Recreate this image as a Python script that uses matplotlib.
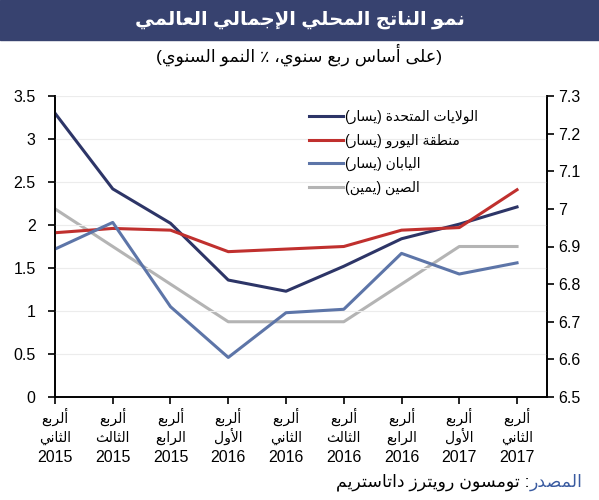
import matplotlib
matplotlib.use("Agg")
import matplotlib.pyplot as plt

# ---- data ----
quarter_names = ["الثاني", "الثالث", "الرابع", "الأول", "الثاني", "الثالث", "الرابع", "الأول", "الثاني"]
years = ["2015", "2015", "2015", "2016", "2016", "2016", "2016", "2017", "2017"]

usa = [3.30, 2.42, 2.02, 1.36, 1.23, 1.52, 1.84, 2.01, 2.21]
euro = [1.91, 1.96, 1.94, 1.69, 1.72, 1.75, 1.94, 1.97, 2.41]
japan = [1.72, 2.03, 1.05, 0.46, 0.98, 1.02, 1.67, 1.43, 1.56]
china = [7.0, 6.9, 6.8, 6.7, 6.7, 6.7, 6.8, 6.9, 6.9]  # right axis

left_ticks = [0, 0.5, 1, 1.5, 2, 2.5, 3, 3.5]
left_ticklabels = ["0", "0.5", "1", "1.5", "2", "2.5", "3", "3.5"]
right_ticks = [6.5, 6.6, 6.7, 6.8, 6.9, 7.0, 7.1, 7.2, 7.3]
right_ticklabels = ["6.5", "6.6", "6.7", "6.8", "6.9", "7", "7.1", "7.2", "7.3"]

labels = ["الولايات المتحدة (يسار)", "منطقة اليورو (يسار)", "اليابان (يسار)", "الصين (يمين)"]
colors = ["#2d3567", "#c0302e", "#5d75a8", "#b4b4b4"]

quarter_word = "ألربع"
title = "نمو الناتج المحلي الإجمالي العالمي"
subtitle = "(على أساس ربع سنوي، ٪ النمو السنوي)"
source_lbl = "المصدر"
source_txt = ": تومسون رويترز داتاستريم"

# ---- tiny arabic shaper (matplotlib has no RTL shaping) ----
JOIN = {
    'ء': (0xFE80, 1), 'آ': (0xFE81, 2), 'أ': (0xFE83, 2), 'ؤ': (0xFE85, 2),
    'إ': (0xFE87, 2), 'ئ': (0xFE89, 4), 'ا': (0xFE8D, 2), 'ب': (0xFE8F, 4),
    'ة': (0xFE93, 2), 'ت': (0xFE95, 4), 'ث': (0xFE99, 4), 'ج': (0xFE9D, 4),
    'ح': (0xFEA1, 4), 'خ': (0xFEA5, 4), 'د': (0xFEA9, 2), 'ذ': (0xFEAB, 2),
    'ر': (0xFEAD, 2), 'ز': (0xFEAF, 2), 'س': (0xFEB1, 4), 'ش': (0xFEB5, 4),
    'ص': (0xFEB9, 4), 'ض': (0xFEBD, 4), 'ط': (0xFEC1, 4), 'ظ': (0xFEC5, 4),
    'ع': (0xFEC9, 4), 'غ': (0xFECD, 4), 'ف': (0xFED1, 4), 'ق': (0xFED5, 4),
    'ك': (0xFED9, 4), 'ل': (0xFEDD, 4), 'م': (0xFEE1, 4), 'ن': (0xFEE5, 4),
    'ه': (0xFEE9, 4), 'و': (0xFEED, 2), 'ى': (0xFEEF, 2), 'ي': (0xFEF1, 4),
}
LAM_ALEF = {'آ': 0xFEF5, 'أ': 0xFEF7, 'إ': 0xFEF9, 'ا': 0xFEFB}
MIRROR = {'(': ')', ')': '('}


def shape_line(s):
    toks = []
    i = 0
    while i < len(s):
        c = s[i]
        if c == 'ل' and i + 1 < len(s) and s[i + 1] in LAM_ALEF:
            toks.append((LAM_ALEF[s[i + 1]], 2))
            i += 2
        elif c in JOIN:
            toks.append(JOIN[c])
            i += 1
        else:
            toks.append(c)
            i += 1
    out = []
    for k, t in enumerate(toks):
        if isinstance(t, str):
            out.append(MIRROR.get(t, t))
            continue
        base, n = t
        prev = toks[k - 1] if k > 0 else None
        nxt = toks[k + 1] if k + 1 < len(toks) else None
        jp = n >= 2 and isinstance(prev, tuple) and prev[1] == 4
        jn = n == 4 and isinstance(nxt, tuple) and nxt[1] >= 2
        if jp and jn:
            f = 3
        elif jp:
            f = 1
        elif jn:
            f = 2
        else:
            f = 0
        out.append(chr(base + f))
    out = out[::-1]
    # keep digit runs left to right
    res, run = [], []
    for ch in out:
        if ch.isdigit() and ch.isascii():
            run.append(ch)
        else:
            res.extend(run[::-1])
            run = []
            res.append(ch)
    res.extend(run[::-1])
    return "".join(res)


def ar(s):
    return "\n".join(shape_line(l) for l in s.split("\n"))


FONT = ["Liberation Sans", "DejaVu Sans"]
plt.rcParams['font.family'] = FONT

fig = plt.figure(figsize=(5.99, 5.0), dpi=100)
ax = fig.add_axes([0.0918, 0.206, 0.8215, 0.602])
ax2 = ax.twinx()

x = list(range(len(years)))
l1, = ax.plot(x, usa, color=colors[0], lw=2.2, label=ar(labels[0]))
l2, = ax.plot(x, euro, color=colors[1], lw=2.2, label=ar(labels[1]))
l3, = ax.plot(x, japan, color=colors[2], lw=2.2, label=ar(labels[2]))
l4, = ax2.plot(x, china, color=colors[3], lw=2.2, label=ar(labels[3]))
ax.set_zorder(ax2.get_zorder() + 1)
ax.patch.set_visible(False)

ax.set_xlim(0, 8.52)
ax.set_ylim(0, 3.5)
ax2.set_ylim(6.5, 7.3)
ax.set_yticks(left_ticks, left_ticklabels)
ax2.set_yticks(right_ticks, right_ticklabels)
ax.set_xticks(x, [""] * len(x))
ax.grid(axis='y', color='#ececec', lw=0.8)
ax.set_axisbelow(True)

for a in (ax, ax2):
    a.spines['top'].set_visible(False)
    for sp in ('left', 'right', 'bottom'):
        a.spines[sp].set_linewidth(1.2)
    a.tick_params(direction='out', length=5, width=1.2, labelsize=11.5, colors='black')
ax.tick_params(axis='y', pad=9)
ax2.tick_params(axis='y', pad=3)

# three-line category labels under each tick
xt = ax.get_xaxis_transform()
for i in x:
    ax.annotate(ar(quarter_word), (i, 0), xycoords=xt, xytext=(0, -18.5), textcoords='offset points',
                ha='center', va='baseline', fontsize=10)
    ax.annotate(ar(quarter_names[i]), (i, 0), xycoords=xt, xytext=(0, -32.5), textcoords='offset points',
                ha='center', va='baseline', fontsize=10)
    ax.annotate(years[i], (i, 0), xycoords=xt, xytext=(0, -46.5), textcoords='offset points',
                ha='center', va='baseline', fontsize=11.5)

leg = ax.legend(handles=[l1, l2, l3, l4], loc='upper left', bbox_to_anchor=(0.505, 0.795),
                bbox_transform=fig.transFigure, frameon=False, fontsize=10,
                handlelength=2.4, handletextpad=0.15, labelspacing=0.7, borderpad=0)

# title banner
fig.patches.append(plt.Rectangle((0, 0.92), 1, 0.08, transform=fig.transFigure,
                                 color='#37426f', zorder=0))
fig.text(0.5, 0.96, ar(title), color='white', fontsize=14, fontweight='bold',
         ha='center', va='center')
fig.text(0.5, 0.89, ar(subtitle), fontsize=12.5, ha='center', va='center')

# source line, right aligned
t1 = fig.text(0.973, 0.036, ar(source_lbl), fontsize=12.5, color='#3a5ba0', ha='right', va='center')
fig.canvas.draw()
bb = t1.get_window_extent()
fig.text(bb.x0 / fig.bbox.width, 0.036, ar(source_txt), fontsize=12.5, ha='right', va='center')

fig.savefig("out.png", dpi=100)
